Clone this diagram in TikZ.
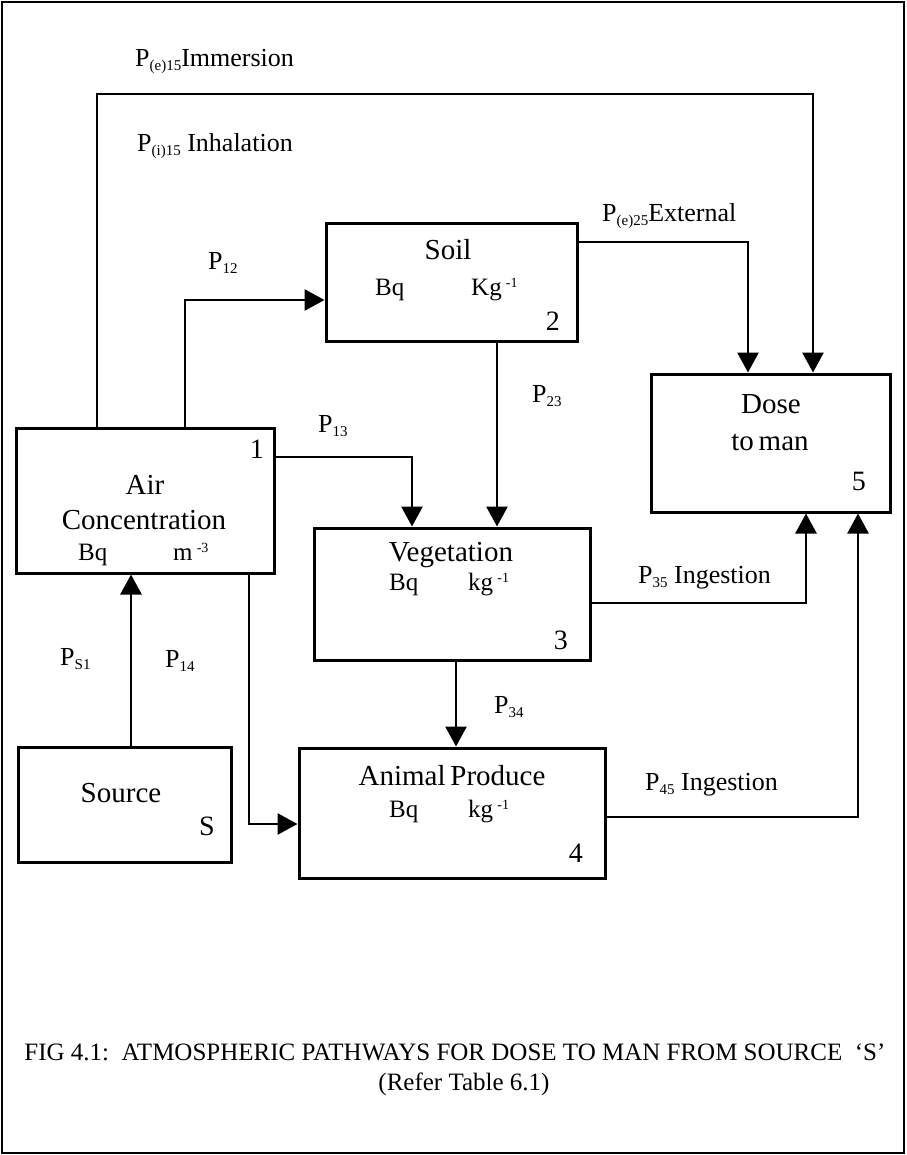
\documentclass[tikz,border=0pt]{standalone}
\usepackage{fontspec}
\setmainfont{Liberation Serif}
\usetikzlibrary{arrows.meta}
\newcommand{\fs}[1]{\fontsize{#1}{#1}\selectfont}
\newcommand{\sub}[1]{\raisebox{-4pt}{\fs{15}#1}}
\newcommand{\sups}[1]{\raisebox{8pt}{\fs{14}#1}}

\begin{document}
\begin{tikzpicture}[x=1pt, y=-1pt,
    box/.style 2 args={draw, line width=3pt, minimum width=#1pt, minimum height=#2pt, inner sep=0pt},
    flow/.style={line width=2.8pt, -{Triangle[length=20pt, width=21pt]}},
    lbl/.style={inner sep=0pt, anchor=base west, font=\fs{26}},
    ttl/.style={inner sep=0pt, anchor=base, font=\fs{29}},
    unit/.style={inner sep=0pt, anchor=base west, font=\fs{25}},
    num/.style={inner sep=0pt, anchor=base east, font=\fs{28}}]
    \useasboundingbox (0,0) rectangle (906,1155);
    \draw[line width=2pt] (2,2) rectangle (904,1153);

    % compartments
    \node[box={251}{117}] (soil) at (451.5,282.5) {};
    \node[box={239}{138}] (dose) at (770.5,443) {};
    \node[box={258}{145}] (air) at (145,500.5) {};
    \node[box={276}{132}] (veg) at (452,594) {};
    \node[box={213}{115}] (src) at (124.5,804.5) {};
    \node[box={306}{130}] (anim) at (452,813) {};

    % texts in the compartments
    \node[ttl] (soilname) at (448,260) {Soil};
    \node[unit] (soilbq) at (375,295) {Bq};
    \node[unit] (soilkg) at (471,295) {Kg\,\sups{-1}};
    \node[num] (soilno) at (560,330) {2};

    \node[ttl] (dosename) at (771,413) {Dose};
    \node[ttl] (doseman) at (770,450) {to\,man};
    \node[num] (doseno) at (866,490) {5};

    \node[num] (airno) at (264,458) {1};
    \node[ttl] (airname) at (145,494) {Air};
    \node[ttl] (airconc) at (144,529) {Concentration};
    \node[unit] (airbq) at (78,560) {Bq};
    \node[unit] (airm) at (173,560) {m\,\sups{-3}};

    \node[ttl] (vegname) at (451,561) {Vegetation};
    \node[unit] (vegbq) at (389,590) {Bq};
    \node[unit] (vegkg) at (468,590) {kg\,\sups{-1}};
    \node[num] (vegno) at (568,649) {3};

    \node[ttl] (srcname) at (121,802) {Source};
    \node[num] (srcno) at (215,835) {S};

    \node[ttl] (animname) at (452,785) {Animal\,Produce};
    \node[unit] (animbq) at (389,817) {Bq};
    \node[unit] (animkg) at (468,817) {kg\,\sups{-1}};
    \node[num] (animno) at (583,862) {4};

    % bends of the pathways
    \coordinate (imL) at (97,94);
    \coordinate (imR) at (813,94);
    \coordinate (c12) at (185,300);
    \coordinate (c25) at (748,242);
    \coordinate (c23) at (497,400);
    \coordinate (c13) at (412,457);
    \coordinate (c14) at (249,824);
    \coordinate (cs1) at (131,700);
    \coordinate (c34) at (456,700);
    \coordinate (c35) at (806,603);
    \coordinate (c45) at (858,817);

    % pathways
    \draw[flow] (air.north -| imL) -- (imL) -- (imR) -- (imR |- dose.north);
    \draw[flow] (air.north -| c12) |- (soil.west |- c12);
    \draw[flow] (soil.east |- c25) -| (dose.north -| c25);
    \draw[flow] (soil.south -| c23) -- (veg.north -| c23);
    \draw[flow] (air.east |- c13) -| (veg.north -| c13);
    \draw[flow] (air.south -| c14) |- (anim.west |- c14);
    \draw[flow] (src.north -| cs1) -- (air.south -| cs1);
    \draw[flow] (veg.south -| c34) -- (anim.north -| c34);
    \draw[flow] (veg.east |- c35) -| (dose.south -| c35);
    \draw[flow] (anim.east |- c45) -| (dose.south -| c45);

    % pathway labels
    \node[lbl] (pe15) at (135,67) {P\sub{(e)15}Immersion};
    \node[lbl] (pi15) at (137,152) {P\sub{(i)15} Inhalation};
    \node[lbl] (p12) at (208,270) {P\sub{12}};
    \node[lbl] (pe25) at (602,222) {P\sub{(e)25}External};
    \node[lbl] (p23) at (532,402) {P\sub{23}};
    \node[lbl] (p13) at (318,432) {P\sub{13}};
    \node[lbl] (p35) at (638,583) {P\sub{35} Ingestion};
    \node[lbl] (ps1) at (60,665) {P\sub{S1}};
    \node[lbl] (p14) at (165,667) {P\sub{14}};
    \node[lbl] (p34) at (494,713) {P\sub{34}};
    \node[lbl] (p45) at (645,790) {P\sub{45} Ingestion};

    % caption
    \node[inner sep=0pt, anchor=base, font=\fs{25}] (cap) at (455,1060)
      {FIG 4.1:\ \ ATMOSPHERIC PATHWAYS FOR DOSE TO MAN FROM SOURCE\ \ `S'};
    \node[inner sep=0pt, anchor=base, font=\fs{25}] (capref) at (464,1090) {(Refer Table 6.1)};
  \end{tikzpicture}
\end{document}
